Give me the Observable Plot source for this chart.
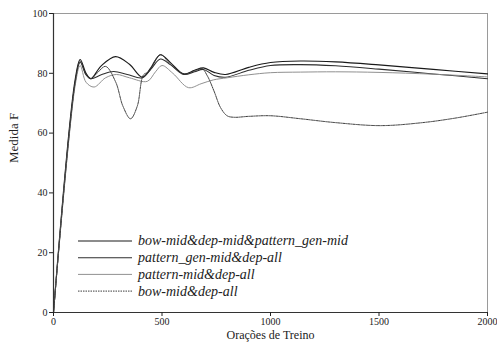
<!DOCTYPE html>
<html>
<head>
<meta charset="utf-8">
<script src="https://cdn.jsdelivr.net/npm/d3@7"></script>
<script src="https://cdn.jsdelivr.net/npm/@observablehq/plot@0.6"></script>
<style>
  body { margin: 0; background: #fff; }
  #chart svg { display: block; }
</style>
</head>
<body>
<div id="chart"></div>
<script>
const seriesNames = [
  "bow-mid&dep-mid&pattern_gen-mid",
  "pattern_gen-mid&dep-all",
  "pattern-mid&dep-all",
  "bow-mid&dep-all"
];

const s1 = [[0,0],[100,78],[123,84.6],[150,80],[172,78.2],[220,82.5],[286,85.6],[350,83],[409,78.7],[450,82],[493,86.2],[540,83.5],[600,79.8],[650,81],[691,81.8],[740,80.3],[793,79.6],[900,82],[1000,83.6],[1138,84.1],[1300,83.8],[1500,82.8],[1750,81.3],[2000,79.8]];
const s2 = [[0,0],[100,77],[123,83.7],[150,79.5],[172,78.2],[220,79.5],[277,80.6],[340,79.6],[409,78.5],[450,81.5],[493,84.8],[540,82.8],[600,79.6],[650,80.5],[691,81.3],[740,79.3],[793,78.7],[900,81],[1000,82.6],[1138,82.9],[1300,82.5],[1500,81.4],[1750,79.8],[2000,78.2]];
const s3 = [[0,0],[100,76],[123,82.6],[150,77],[187,75.4],[240,78.5],[290,79.6],[350,78.5],[432,77.3],[470,80.5],[500,82.6],[550,80],[622,75.2],[680,76.5],[737,77.8],[800,78.5],[900,79.5],[1000,80.2],[1138,80.4],[1300,80.5],[1500,80.3],[1750,79.7],[2000,78.8]];
const s4 = [[0,0],[100,77],[123,84],[150,79.5],[172,78.2],[200,80],[240,82.3],[287,77],[320,69],[355,64.8],[386,69],[415,79.5],[440,80.5],[465,84],[493,86.2],[540,83],[600,79.8],[650,80.8],[685,81.5],[710,79],[740,74],[770,68.5],[800,65.8],[830,65.3],[900,65.6],[1000,65.8],[1138,64.8],[1300,63.5],[1507,62.5],[1700,63.5],[1850,65],[2000,67]];

const xTicks = [0, 500, 1000, 1500, 2000];
const yTicks = [0, 20, 40, 60, 80, 100];

const seriesData = [s1, s2, s3, s4];
const styles = [
  {stroke: "#1a1a1a", strokeWidth: 1.15, dash: null},
  {stroke: "#2e2e2e", strokeWidth: 1.05, dash: null},
  {stroke: "#8a8a8a", strokeWidth: 0.95, dash: null},
  {stroke: "#333333", strokeWidth: 0.95, dash: "1.5,1"}
];

const serif = '"Liberation Serif", "Times New Roman", Times, serif';

const rows = [];
seriesData.forEach((s, i) => s.forEach(([x, y]) => rows.push({series: seriesNames[i], x, y})));

const lineMarks = seriesNames.map((name, i) =>
  Plot.line(rows.filter(d => d.series === name), {
    x: "x", y: "y", curve: "catmull-rom",
    stroke: styles[i].stroke, strokeWidth: styles[i].strokeWidth,
    strokeDasharray: styles[i].dash
  })
);

const plot = Plot.plot({
  width: 497,
  height: 346,
  marginLeft: 53,
  marginRight: 10,
  marginTop: 13,
  marginBottom: 34,
  style: {fontFamily: serif, fontSize: "10px", color: "#222", background: "#fff"},
  x: {domain: [0, 2000]},
  y: {domain: [0, 100]},
  marks: [
    Plot.frame({stroke: "#9a9a9a", strokeWidth: 1}),
    ...lineMarks,
    Plot.ruleX([0], {stroke: "#333", strokeWidth: 1.2}),
    Plot.ruleY([0], {stroke: "#333", strokeWidth: 1.2}),
    Plot.axisX({ticks: xTicks, tickSize: 4, tickPadding: 1, tickFormat: d => String(d), label: null, fontSize: 10}),
    Plot.axisY({ticks: yTicks, tickSize: 4, tickPadding: 2, tickFormat: d => String(d), label: null, fontSize: 10}),
    Plot.text(["Orações de Treino"], {frameAnchor: "bottom", dy: 26, fontSize: 12, fill: "#222"}),
    Plot.text(["Medida F"], {frameAnchor: "left", dx: -40, rotate: -90, fontSize: 13, fill: "#222"})
  ]
});

document.getElementById("chart").append(plot);

// Legend drawn inside the SVG
const svg = d3.select(plot);
const legend = svg.append("g")
  .attr("font-family", serif)
  .attr("font-style", "italic")
  .attr("font-size", 14)
  .attr("text-anchor", "start");
seriesNames.forEach((name, i) => {
  const yy = 241 + i * 16.7;
  legend.append("line")
    .attr("x1", 78).attr("x2", 132).attr("y1", yy).attr("y2", yy)
    .attr("stroke", styles[i].stroke).attr("stroke-width", styles[i].strokeWidth)
    .attr("stroke-dasharray", styles[i].dash);
  legend.append("text")
    .attr("x", 138).attr("y", yy).attr("dy", "0.32em")
    .attr("text-anchor", "start")
    .attr("fill", "#222").text(name);
});
</script>
</body>
</html>
